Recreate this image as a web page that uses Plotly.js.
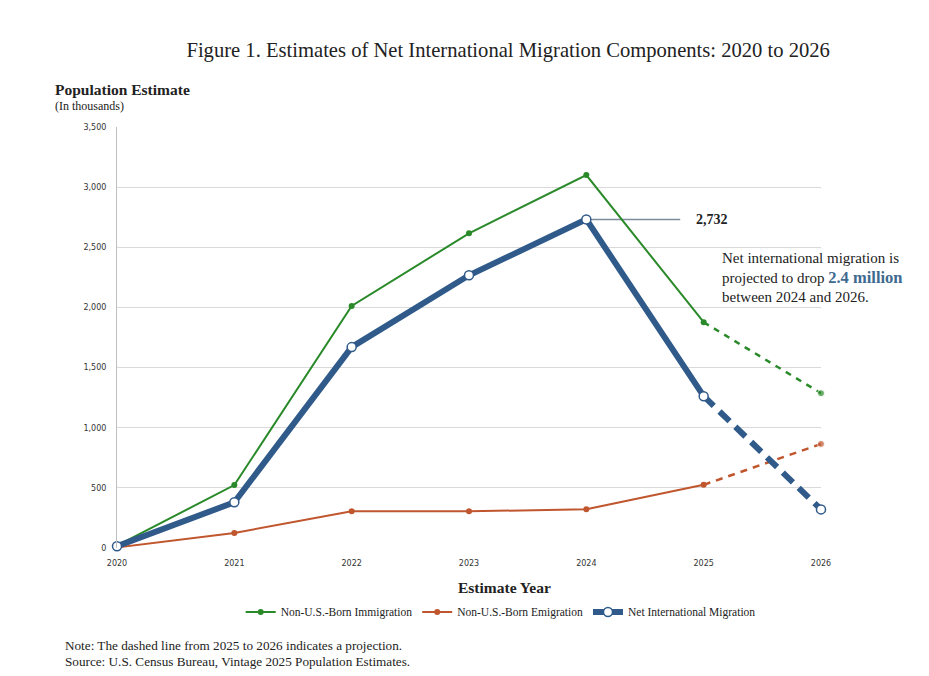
<!DOCTYPE html>
<html>
<head>
<meta charset="utf-8">
<script src="https://cdn.plot.ly/plotly-3.0.1.min.js"></script>
<style>html,body{margin:0;padding:0;background:#fff;}#chart{width:929px;height:676px;}</style>
</head>
<body>
<div id="chart"></div>
<script>
var years = [2020, 2021, 2022, 2023, 2024, 2025, 2026];
var immigration = [20, 523, 2012, 2616, 3100, 1877, 1287];
var emigration = [5, 125, 305, 305, 322, 525, 865];
var netMigration = [15, 380, 1670, 2267, 2732, 1262, 321];
var yTicks = [0, 500, 1000, 1500, 2000, 2500, 3000, 3500];
var yTickText = ["0", "500", "1,000", "1,500", "2,000", "2,500", "3,000", "3,500"];
var seriesNames = ["Non-U.S.-Born Immigration", "Non-U.S.-Born Emigration", "Net International Migration"];

var serif = "Liberation Serif, Times New Roman, serif";
var green = "#2a8a2a", orange = "#c0562e", blue = "#2f5a8a";
var nSolid = 6; // 2020..2025 observed

function solid(arr){ return arr.slice(0, nSolid); }
function proj(arr){ return arr.slice(nSolid - 1); }

var traces = [
  {x: solid(years), y: solid(immigration), name: seriesNames[0], mode: "lines+markers",
   line: {color: green, width: 2}, marker: {color: green, size: 6}, cliponaxis: false},
  {x: proj(years), y: proj(immigration), showlegend: false, mode: "lines+markers",
   line: {color: green, width: 2.5, dash: "6px,6px"}, marker: {color: green, size: [0, 7]}, cliponaxis: false, hoverinfo: "skip"},
  {x: solid(years), y: solid(emigration), name: seriesNames[1], mode: "lines+markers",
   line: {color: orange, width: 2}, marker: {color: orange, size: 6}, cliponaxis: false},
  {x: proj(years), y: proj(emigration), showlegend: false, mode: "lines+markers",
   line: {color: orange, width: 2.5, dash: "7px,6px"}, marker: {color: orange, size: [0, 7]}, cliponaxis: false, hoverinfo: "skip"},
  {x: proj(years), y: proj(netMigration), showlegend: false, mode: "lines",
   line: {color: blue, width: 6, dash: "14px,8px"}, cliponaxis: false, hoverinfo: "skip"},
  {x: solid(years), y: solid(netMigration), name: seriesNames[2], mode: "lines+markers",
   line: {color: blue, width: 6}, marker: {color: "#ffffff", size: 9, line: {color: blue, width: 1.5}}, cliponaxis: false},
  {x: years.slice(6), y: netMigration.slice(6), showlegend: false, mode: "markers",
   marker: {color: "#ffffff", size: 9, line: {color: blue, width: 1.5}}, cliponaxis: false, hoverinfo: "skip"}
];

var layout = {
  width: 929, height: 676,
  margin: {l: 117, r: 108, t: 127, b: 128},
  paper_bgcolor: "#ffffff", plot_bgcolor: "#ffffff",
  font: {family: serif, color: "#222"},
  title: {text: "Figure 1. Estimates of Net International Migration Components: 2020 to 2026",
          font: {family: serif, size: 20.6, color: "#222"},
          x: 0.547, xref: "container", xanchor: "center", y: 0.926, yref: "container", yanchor: "middle"},
  xaxis: {range: [2020, 2026], tickvals: years, ticktext: years.map(String),
          showgrid: false, zeroline: false, showline: false, ticks: "",
          tickfont: {family: "DejaVu Sans, sans-serif", size: 8, color: "#333"}, ticklabelstandoff: 9},
  yaxis: {range: [0, 3500], tickvals: yTicks, ticktext: yTickText,
          showgrid: true, gridcolor: "#d9d9d9", gridwidth: 1, zeroline: false,
          showline: true, linecolor: "#bfbfbf", linewidth: 1, ticks: "",
          tickfont: {family: "DejaVu Sans, sans-serif", size: 8, color: "#333"}, ticklabelstandoff: 8},
  showlegend: true,
  legend: {orientation: "h", x: 0.545, xanchor: "center", y: -0.152, yanchor: "middle",
           font: {family: serif, size: 11.5, color: "#222"}, itemwidth: 30, traceorder: "normal"},
  shapes: [
    {type: "line", xref: "x", yref: "y", x0: 2024, y0: 2732, x1: 2024.8, y1: 2732,
     line: {color: "#7d8c9c", width: 1.5}, layer: "below"}
  ],
  annotations: [
    {xref: "paper", yref: "paper", x: -0.091, y: 1.088, xanchor: "left", yanchor: "middle",
     text: "<b>Population Estimate</b>", showarrow: false, font: {family: serif, size: 15.5, color: "#222"}},
    {xref: "paper", yref: "paper", x: -0.091, y: 1.05, xanchor: "left", yanchor: "middle",
     text: "(In thousands)", showarrow: false, font: {family: serif, size: 12, color: "#222"}},
    {xref: "paper", yref: "paper", x: 0.55, y: -0.093, xanchor: "center", yanchor: "middle",
     text: "<b>Estimate Year</b>", showarrow: false, font: {family: serif, size: 15.5, color: "#222"}},
    {xref: "x", yref: "y", x: 2024.92, y: 2732, xanchor: "left", yanchor: "middle",
     text: "<b>2,732</b>", showarrow: false, font: {family: serif, size: 14, color: "#222"}},
    {xref: "x", yref: "y", x: 2026.1, y: 321, xanchor: "left", yanchor: "middle",
     text: "<b>321</b>", showarrow: false, font: {family: serif, size: 14, color: "#222"}},
    {xref: "paper", yref: "paper", x: 0.856, y: 0.643, xanchor: "left", yanchor: "middle", align: "left",
     text: "Net international migration is<br>projected to drop <b><span style='color:#3e6a8f;font-size:16.5px'>2.4 million</span></b><br>between 2024 and 2026.",
     showarrow: false, font: {family: serif, size: 15, color: "#222"}},
    {xref: "paper", yref: "paper", x: -0.077, y: -0.231, xanchor: "left", yanchor: "middle", align: "left",
     text: "Note: The dashed line from 2025 to 2026 indicates a projection.", showarrow: false,
     font: {family: serif, size: 13.2, color: "#222"}},
    {xref: "paper", yref: "paper", x: -0.077, y: -0.269, xanchor: "left", yanchor: "middle", align: "left",
     text: "Source: U.S. Census Bureau, Vintage 2025 Population Estimates.", showarrow: false,
     font: {family: serif, size: 13.2, color: "#222"}}
  ]
};

Plotly.newPlot("chart", traces, layout, {displayModeBar: false, staticPlot: true});
</script>
</body>
</html>
